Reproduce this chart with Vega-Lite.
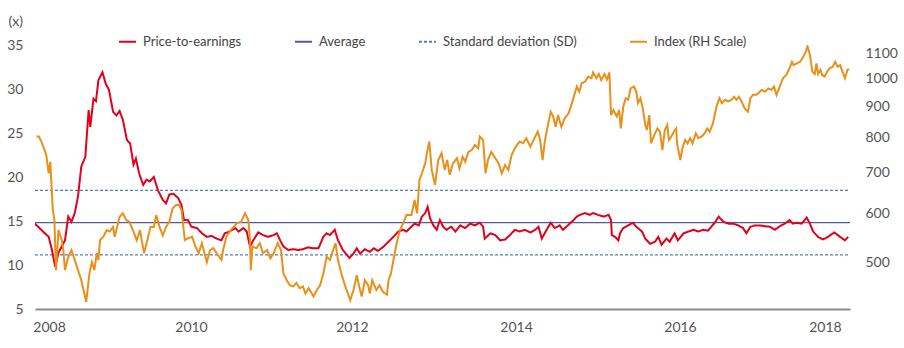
{
  "$schema": "https://vega.github.io/schema/vega-lite/v6.json",
  "width": 815,
  "height": 264,
  "autosize": {"type": "none"},
  "padding": {"left": 35, "top": 45, "right": 54, "bottom": 39},
  "background": "white",
  "config": {
    "view": {"stroke": null},
    "font": "Lato",
    "axis": {"grid": false, "ticks": false, "domain": false, "labelFont": "Lato", "labelFontSize": 14, "labelColor": "#555555", "titleFont": "Lato"},
    "legend": {"labelFont": "Lato", "labelFontSize": 13, "labelColor": "#444444", "symbolType": "stroke", "symbolSize": 289, "symbolStrokeWidth": 2, "columnPadding": 49, "labelOffset": 6, "labelLimit": 300}
  },
  "datasets": {
    "ref": [
      {"s": "Average", "g": "a", "t": 2008.552, "v": 14.82},
      {"s": "Average", "g": "a", "t": 2018.552, "v": 14.82},
      {"s": "Standard deviation (SD)", "g": "u", "t": 2008.552, "v": 18.49},
      {"s": "Standard deviation (SD)", "g": "u", "t": 2018.552, "v": 18.49},
      {"s": "Standard deviation (SD)", "g": "l", "t": 2008.552, "v": 11.15},
      {"s": "Standard deviation (SD)", "g": "l", "t": 2018.552, "v": 11.15}
    ],
    "pe": [
      {"s":"Price-to-earnings","t":2008.55,"v":14.7},{"s":"Price-to-earnings","t":2008.59,"v":14.35},{"s":"Price-to-earnings","t":2008.65,"v":13.8},{"s":"Price-to-earnings","t":2008.72,"v":13.2},{"s":"Price-to-earnings","t":2008.76,"v":11.7},{"s":"Price-to-earnings","t":2008.80,"v":9.8},{"s":"Price-to-earnings","t":2008.84,"v":11.4},{"s":"Price-to-earnings","t":2008.88,"v":12.1},{"s":"Price-to-earnings","t":2008.92,"v":12.8},{"s":"Price-to-earnings","t":2008.96,"v":15.5},
      {"s":"Price-to-earnings","t":2009.00,"v":14.9},{"s":"Price-to-earnings","t":2009.04,"v":15.9},{"s":"Price-to-earnings","t":2009.08,"v":17.8},{"s":"Price-to-earnings","t":2009.12,"v":21.2},{"s":"Price-to-earnings","t":2009.17,"v":22.3},{"s":"Price-to-earnings","t":2009.19,"v":25.0},{"s":"Price-to-earnings","t":2009.21,"v":27.6},{"s":"Price-to-earnings","t":2009.23,"v":25.7},{"s":"Price-to-earnings","t":2009.27,"v":28.9},{"s":"Price-to-earnings","t":2009.30,"v":28.6},
      {"s":"Price-to-earnings","t":2009.33,"v":31.0},{"s":"Price-to-earnings","t":2009.38,"v":31.9},{"s":"Price-to-earnings","t":2009.42,"v":30.6},{"s":"Price-to-earnings","t":2009.46,"v":29.9},{"s":"Price-to-earnings","t":2009.51,"v":27.4},{"s":"Price-to-earnings","t":2009.55,"v":27.0},{"s":"Price-to-earnings","t":2009.59,"v":27.5},{"s":"Price-to-earnings","t":2009.63,"v":26.5},{"s":"Price-to-earnings","t":2009.68,"v":24.2},{"s":"Price-to-earnings","t":2009.72,"v":23.8},
      {"s":"Price-to-earnings","t":2009.76,"v":21.4},{"s":"Price-to-earnings","t":2009.79,"v":22.1},{"s":"Price-to-earnings","t":2009.83,"v":20.4},{"s":"Price-to-earnings","t":2009.88,"v":19.1},{"s":"Price-to-earnings","t":2009.92,"v":19.7},{"s":"Price-to-earnings","t":2009.96,"v":19.5},{"s":"Price-to-earnings","t":2010.01,"v":20.0},{"s":"Price-to-earnings","t":2010.06,"v":18.5},{"s":"Price-to-earnings","t":2010.12,"v":17.4},{"s":"Price-to-earnings","t":2010.16,"v":17.0},
      {"s":"Price-to-earnings","t":2010.20,"v":18.0},{"s":"Price-to-earnings","t":2010.25,"v":18.1},{"s":"Price-to-earnings","t":2010.31,"v":17.6},{"s":"Price-to-earnings","t":2010.35,"v":16.8},{"s":"Price-to-earnings","t":2010.38,"v":15.1},{"s":"Price-to-earnings","t":2010.43,"v":15.1},{"s":"Price-to-earnings","t":2010.47,"v":14.35},{"s":"Price-to-earnings","t":2010.54,"v":14.2},{"s":"Price-to-earnings","t":2010.60,"v":13.6},{"s":"Price-to-earnings","t":2010.66,"v":13.2},
      {"s":"Price-to-earnings","t":2010.72,"v":13.3},{"s":"Price-to-earnings","t":2010.78,"v":13.0},{"s":"Price-to-earnings","t":2010.84,"v":12.8},{"s":"Price-to-earnings","t":2010.88,"v":13.6},{"s":"Price-to-earnings","t":2010.94,"v":13.8},{"s":"Price-to-earnings","t":2011.01,"v":14.2},{"s":"Price-to-earnings","t":2011.05,"v":13.8},{"s":"Price-to-earnings","t":2011.11,"v":14.2},{"s":"Price-to-earnings","t":2011.15,"v":13.8},{"s":"Price-to-earnings","t":2011.19,"v":12.1},
      {"s":"Price-to-earnings","t":2011.23,"v":12.8},{"s":"Price-to-earnings","t":2011.29,"v":13.7},{"s":"Price-to-earnings","t":2011.35,"v":13.4},{"s":"Price-to-earnings","t":2011.41,"v":13.2},{"s":"Price-to-earnings","t":2011.48,"v":13.4},{"s":"Price-to-earnings","t":2011.52,"v":13.6},{"s":"Price-to-earnings","t":2011.56,"v":12.8},{"s":"Price-to-earnings","t":2011.60,"v":12.1},{"s":"Price-to-earnings","t":2011.66,"v":11.7},{"s":"Price-to-earnings","t":2011.72,"v":11.8},
      {"s":"Price-to-earnings","t":2011.78,"v":11.7},{"s":"Price-to-earnings","t":2011.84,"v":11.8},{"s":"Price-to-earnings","t":2011.90,"v":12.0},{"s":"Price-to-earnings","t":2011.97,"v":11.9},{"s":"Price-to-earnings","t":2012.03,"v":11.9},{"s":"Price-to-earnings","t":2012.09,"v":13.2},{"s":"Price-to-earnings","t":2012.13,"v":13.6},{"s":"Price-to-earnings","t":2012.17,"v":13.4},{"s":"Price-to-earnings","t":2012.23,"v":14.0},{"s":"Price-to-earnings","t":2012.27,"v":12.8},
      {"s":"Price-to-earnings","t":2012.33,"v":11.7},{"s":"Price-to-earnings","t":2012.41,"v":10.8},{"s":"Price-to-earnings","t":2012.46,"v":11.3},{"s":"Price-to-earnings","t":2012.50,"v":11.9},{"s":"Price-to-earnings","t":2012.54,"v":11.3},{"s":"Price-to-earnings","t":2012.60,"v":11.8},{"s":"Price-to-earnings","t":2012.66,"v":11.5},{"s":"Price-to-earnings","t":2012.71,"v":11.9},{"s":"Price-to-earnings","t":2012.76,"v":11.6},{"s":"Price-to-earnings","t":2012.83,"v":12.1},
      {"s":"Price-to-earnings","t":2012.89,"v":12.65},{"s":"Price-to-earnings","t":2012.95,"v":13.2},{"s":"Price-to-earnings","t":2013.01,"v":13.8},{"s":"Price-to-earnings","t":2013.07,"v":14.0},{"s":"Price-to-earnings","t":2013.11,"v":13.8},{"s":"Price-to-earnings","t":2013.17,"v":14.35},{"s":"Price-to-earnings","t":2013.21,"v":14.7},{"s":"Price-to-earnings","t":2013.26,"v":14.5},{"s":"Price-to-earnings","t":2013.30,"v":15.5},{"s":"Price-to-earnings","t":2013.34,"v":15.9},
      {"s":"Price-to-earnings","t":2013.37,"v":16.6},{"s":"Price-to-earnings","t":2013.40,"v":15.3},{"s":"Price-to-earnings","t":2013.44,"v":14.5},{"s":"Price-to-earnings","t":2013.48,"v":14.0},{"s":"Price-to-earnings","t":2013.52,"v":15.1},{"s":"Price-to-earnings","t":2013.56,"v":14.35},{"s":"Price-to-earnings","t":2013.60,"v":14.0},{"s":"Price-to-earnings","t":2013.66,"v":14.35},{"s":"Price-to-earnings","t":2013.71,"v":13.8},{"s":"Price-to-earnings","t":2013.77,"v":14.5},
      {"s":"Price-to-earnings","t":2013.83,"v":14.2},{"s":"Price-to-earnings","t":2013.89,"v":14.7},{"s":"Price-to-earnings","t":2013.95,"v":14.5},{"s":"Price-to-earnings","t":2014.01,"v":14.8},{"s":"Price-to-earnings","t":2014.05,"v":14.35},{"s":"Price-to-earnings","t":2014.07,"v":13.0},{"s":"Price-to-earnings","t":2014.14,"v":13.6},{"s":"Price-to-earnings","t":2014.20,"v":13.4},{"s":"Price-to-earnings","t":2014.26,"v":12.8},{"s":"Price-to-earnings","t":2014.32,"v":12.9},
      {"s":"Price-to-earnings","t":2014.38,"v":13.4},{"s":"Price-to-earnings","t":2014.44,"v":14.0},{"s":"Price-to-earnings","t":2014.50,"v":13.8},{"s":"Price-to-earnings","t":2014.56,"v":14.0},{"s":"Price-to-earnings","t":2014.63,"v":13.7},{"s":"Price-to-earnings","t":2014.69,"v":14.0},{"s":"Price-to-earnings","t":2014.73,"v":14.35},{"s":"Price-to-earnings","t":2014.77,"v":13.0},{"s":"Price-to-earnings","t":2014.83,"v":14.0},{"s":"Price-to-earnings","t":2014.88,"v":14.8},
      {"s":"Price-to-earnings","t":2014.93,"v":14.2},{"s":"Price-to-earnings","t":2014.99,"v":14.5},{"s":"Price-to-earnings","t":2015.03,"v":14.0},{"s":"Price-to-earnings","t":2015.09,"v":14.5},{"s":"Price-to-earnings","t":2015.16,"v":15.1},{"s":"Price-to-earnings","t":2015.20,"v":15.5},{"s":"Price-to-earnings","t":2015.24,"v":15.7},{"s":"Price-to-earnings","t":2015.30,"v":15.9},{"s":"Price-to-earnings","t":2015.36,"v":15.7},{"s":"Price-to-earnings","t":2015.40,"v":15.9},
      {"s":"Price-to-earnings","t":2015.46,"v":15.7},{"s":"Price-to-earnings","t":2015.53,"v":15.5},{"s":"Price-to-earnings","t":2015.59,"v":15.7},{"s":"Price-to-earnings","t":2015.62,"v":15.1},{"s":"Price-to-earnings","t":2015.63,"v":13.4},{"s":"Price-to-earnings","t":2015.67,"v":13.2},{"s":"Price-to-earnings","t":2015.71,"v":12.8},{"s":"Price-to-earnings","t":2015.73,"v":13.6},{"s":"Price-to-earnings","t":2015.77,"v":14.2},{"s":"Price-to-earnings","t":2015.83,"v":14.5},
      {"s":"Price-to-earnings","t":2015.89,"v":14.8},{"s":"Price-to-earnings","t":2015.93,"v":14.35},{"s":"Price-to-earnings","t":2016.00,"v":13.8},{"s":"Price-to-earnings","t":2016.04,"v":13.0},{"s":"Price-to-earnings","t":2016.10,"v":12.4},{"s":"Price-to-earnings","t":2016.16,"v":12.65},{"s":"Price-to-earnings","t":2016.20,"v":13.2},{"s":"Price-to-earnings","t":2016.24,"v":12.3},{"s":"Price-to-earnings","t":2016.30,"v":13.0},{"s":"Price-to-earnings","t":2016.34,"v":12.65},
      {"s":"Price-to-earnings","t":2016.40,"v":13.6},{"s":"Price-to-earnings","t":2016.44,"v":12.8},{"s":"Price-to-earnings","t":2016.51,"v":13.6},{"s":"Price-to-earnings","t":2016.57,"v":13.8},{"s":"Price-to-earnings","t":2016.63,"v":14.0},{"s":"Price-to-earnings","t":2016.69,"v":13.8},{"s":"Price-to-earnings","t":2016.75,"v":14.0},{"s":"Price-to-earnings","t":2016.81,"v":13.9},{"s":"Price-to-earnings","t":2016.85,"v":14.35},{"s":"Price-to-earnings","t":2016.90,"v":14.9},
      {"s":"Price-to-earnings","t":2016.94,"v":15.5},{"s":"Price-to-earnings","t":2017.00,"v":14.9},{"s":"Price-to-earnings","t":2017.06,"v":14.7},{"s":"Price-to-earnings","t":2017.12,"v":14.7},{"s":"Price-to-earnings","t":2017.18,"v":14.5},{"s":"Price-to-earnings","t":2017.24,"v":14.2},{"s":"Price-to-earnings","t":2017.28,"v":13.6},{"s":"Price-to-earnings","t":2017.33,"v":14.35},{"s":"Price-to-earnings","t":2017.39,"v":14.5},{"s":"Price-to-earnings","t":2017.45,"v":14.5},
      {"s":"Price-to-earnings","t":2017.51,"v":14.4},{"s":"Price-to-earnings","t":2017.57,"v":14.35},{"s":"Price-to-earnings","t":2017.63,"v":14.0},{"s":"Price-to-earnings","t":2017.69,"v":14.4},{"s":"Price-to-earnings","t":2017.75,"v":14.7},{"s":"Price-to-earnings","t":2017.81,"v":15.1},{"s":"Price-to-earnings","t":2017.85,"v":14.7},{"s":"Price-to-earnings","t":2017.90,"v":14.8},{"s":"Price-to-earnings","t":2017.96,"v":14.7},{"s":"Price-to-earnings","t":2018.02,"v":15.4},
      {"s":"Price-to-earnings","t":2018.06,"v":14.7},{"s":"Price-to-earnings","t":2018.10,"v":13.8},{"s":"Price-to-earnings","t":2018.16,"v":13.2},{"s":"Price-to-earnings","t":2018.22,"v":12.9},{"s":"Price-to-earnings","t":2018.28,"v":13.2},{"s":"Price-to-earnings","t":2018.36,"v":13.7},{"s":"Price-to-earnings","t":2018.43,"v":13.2},{"s":"Price-to-earnings","t":2018.49,"v":12.8},{"s":"Price-to-earnings","t":2018.53,"v":13.2}
    ],
    "idx": [
      {"s":"Index (RH Scale)","t":2008.57,"v":803},{"s":"Index (RH Scale)","t":2008.60,"v":803},{"s":"Index (RH Scale)","t":2008.63,"v":788},{"s":"Index (RH Scale)","t":2008.67,"v":763},{"s":"Index (RH Scale)","t":2008.69,"v":749},{"s":"Index (RH Scale)","t":2008.72,"v":699},{"s":"Index (RH Scale)","t":2008.74,"v":730},{"s":"Index (RH Scale)","t":2008.77,"v":609},{"s":"Index (RH Scale)","t":2008.79,"v":586},{"s":"Index (RH Scale)","t":2008.81,"v":485},
      {"s":"Index (RH Scale)","t":2008.84,"v":564},{"s":"Index (RH Scale)","t":2008.88,"v":543},{"s":"Index (RH Scale)","t":2008.90,"v":523},{"s":"Index (RH Scale)","t":2008.92,"v":485},{"s":"Index (RH Scale)","t":2008.96,"v":510},{"s":"Index (RH Scale)","t":2009.00,"v":523},{"s":"Index (RH Scale)","t":2009.04,"v":504},{"s":"Index (RH Scale)","t":2009.08,"v":485},{"s":"Index (RH Scale)","t":2009.12,"v":467},{"s":"Index (RH Scale)","t":2009.18,"v":430},
      {"s":"Index (RH Scale)","t":2009.22,"v":479},{"s":"Index (RH Scale)","t":2009.25,"v":500},{"s":"Index (RH Scale)","t":2009.28,"v":485},{"s":"Index (RH Scale)","t":2009.31,"v":517},{"s":"Index (RH Scale)","t":2009.33,"v":504},{"s":"Index (RH Scale)","t":2009.35,"v":543},{"s":"Index (RH Scale)","t":2009.39,"v":550},{"s":"Index (RH Scale)","t":2009.43,"v":564},{"s":"Index (RH Scale)","t":2009.47,"v":561},{"s":"Index (RH Scale)","t":2009.51,"v":571},
      {"s":"Index (RH Scale)","t":2009.53,"v":550},{"s":"Index (RH Scale)","t":2009.59,"v":593},{"s":"Index (RH Scale)","t":2009.63,"v":601},{"s":"Index (RH Scale)","t":2009.67,"v":586},{"s":"Index (RH Scale)","t":2009.71,"v":582},{"s":"Index (RH Scale)","t":2009.76,"v":561},{"s":"Index (RH Scale)","t":2009.80,"v":543},{"s":"Index (RH Scale)","t":2009.84,"v":564},{"s":"Index (RH Scale)","t":2009.89,"v":517},{"s":"Index (RH Scale)","t":2009.93,"v":543},
      {"s":"Index (RH Scale)","t":2009.97,"v":571},{"s":"Index (RH Scale)","t":2010.01,"v":571},{"s":"Index (RH Scale)","t":2010.04,"v":597},{"s":"Index (RH Scale)","t":2010.08,"v":571},{"s":"Index (RH Scale)","t":2010.12,"v":553},{"s":"Index (RH Scale)","t":2010.16,"v":571},{"s":"Index (RH Scale)","t":2010.20,"v":582},{"s":"Index (RH Scale)","t":2010.24,"v":612},{"s":"Index (RH Scale)","t":2010.28,"v":620},{"s":"Index (RH Scale)","t":2010.32,"v":620},
      {"s":"Index (RH Scale)","t":2010.35,"v":609},{"s":"Index (RH Scale)","t":2010.39,"v":543},{"s":"Index (RH Scale)","t":2010.43,"v":547},{"s":"Index (RH Scale)","t":2010.48,"v":550},{"s":"Index (RH Scale)","t":2010.52,"v":530},{"s":"Index (RH Scale)","t":2010.56,"v":517},{"s":"Index (RH Scale)","t":2010.60,"v":537},{"s":"Index (RH Scale)","t":2010.66,"v":500},{"s":"Index (RH Scale)","t":2010.70,"v":523},{"s":"Index (RH Scale)","t":2010.74,"v":527},
      {"s":"Index (RH Scale)","t":2010.78,"v":517},{"s":"Index (RH Scale)","t":2010.84,"v":504},{"s":"Index (RH Scale)","t":2010.86,"v":523},{"s":"Index (RH Scale)","t":2010.90,"v":550},{"s":"Index (RH Scale)","t":2010.94,"v":561},{"s":"Index (RH Scale)","t":2010.99,"v":571},{"s":"Index (RH Scale)","t":2011.03,"v":579},{"s":"Index (RH Scale)","t":2011.08,"v":582},{"s":"Index (RH Scale)","t":2011.13,"v":601},{"s":"Index (RH Scale)","t":2011.17,"v":586},
      {"s":"Index (RH Scale)","t":2011.19,"v":543},{"s":"Index (RH Scale)","t":2011.20,"v":485},{"s":"Index (RH Scale)","t":2011.22,"v":530},{"s":"Index (RH Scale)","t":2011.27,"v":527},{"s":"Index (RH Scale)","t":2011.31,"v":537},{"s":"Index (RH Scale)","t":2011.35,"v":517},{"s":"Index (RH Scale)","t":2011.40,"v":523},{"s":"Index (RH Scale)","t":2011.44,"v":507},{"s":"Index (RH Scale)","t":2011.48,"v":517},{"s":"Index (RH Scale)","t":2011.53,"v":537},
      {"s":"Index (RH Scale)","t":2011.57,"v":523},{"s":"Index (RH Scale)","t":2011.60,"v":479},{"s":"Index (RH Scale)","t":2011.64,"v":467},{"s":"Index (RH Scale)","t":2011.68,"v":458},{"s":"Index (RH Scale)","t":2011.72,"v":456},{"s":"Index (RH Scale)","t":2011.76,"v":462},{"s":"Index (RH Scale)","t":2011.80,"v":453},{"s":"Index (RH Scale)","t":2011.84,"v":456},{"s":"Index (RH Scale)","t":2011.87,"v":444},{"s":"Index (RH Scale)","t":2011.91,"v":453},
      {"s":"Index (RH Scale)","t":2011.97,"v":439},{"s":"Index (RH Scale)","t":2012.01,"v":450},{"s":"Index (RH Scale)","t":2012.05,"v":458},{"s":"Index (RH Scale)","t":2012.09,"v":479},{"s":"Index (RH Scale)","t":2012.13,"v":510},{"s":"Index (RH Scale)","t":2012.17,"v":504},{"s":"Index (RH Scale)","t":2012.21,"v":523},{"s":"Index (RH Scale)","t":2012.24,"v":537},{"s":"Index (RH Scale)","t":2012.27,"v":504},{"s":"Index (RH Scale)","t":2012.31,"v":479},
      {"s":"Index (RH Scale)","t":2012.36,"v":456},{"s":"Index (RH Scale)","t":2012.42,"v":433},{"s":"Index (RH Scale)","t":2012.46,"v":450},{"s":"Index (RH Scale)","t":2012.50,"v":476},{"s":"Index (RH Scale)","t":2012.53,"v":456},{"s":"Index (RH Scale)","t":2012.56,"v":439},{"s":"Index (RH Scale)","t":2012.60,"v":467},{"s":"Index (RH Scale)","t":2012.64,"v":458},{"s":"Index (RH Scale)","t":2012.66,"v":444},{"s":"Index (RH Scale)","t":2012.69,"v":467},
      {"s":"Index (RH Scale)","t":2012.74,"v":450},{"s":"Index (RH Scale)","t":2012.78,"v":458},{"s":"Index (RH Scale)","t":2012.82,"v":447},{"s":"Index (RH Scale)","t":2012.87,"v":442},{"s":"Index (RH Scale)","t":2012.89,"v":467},{"s":"Index (RH Scale)","t":2012.92,"v":479},{"s":"Index (RH Scale)","t":2012.95,"v":504},{"s":"Index (RH Scale)","t":2012.99,"v":537},{"s":"Index (RH Scale)","t":2013.03,"v":564},{"s":"Index (RH Scale)","t":2013.07,"v":579},
      {"s":"Index (RH Scale)","t":2013.11,"v":597},{"s":"Index (RH Scale)","t":2013.17,"v":597},{"s":"Index (RH Scale)","t":2013.21,"v":632},{"s":"Index (RH Scale)","t":2013.24,"v":601},{"s":"Index (RH Scale)","t":2013.27,"v":682},{"s":"Index (RH Scale)","t":2013.30,"v":699},{"s":"Index (RH Scale)","t":2013.34,"v":726},{"s":"Index (RH Scale)","t":2013.36,"v":754},{"s":"Index (RH Scale)","t":2013.39,"v":788},{"s":"Index (RH Scale)","t":2013.42,"v":708},
      {"s":"Index (RH Scale)","t":2013.46,"v":669},{"s":"Index (RH Scale)","t":2013.50,"v":735},{"s":"Index (RH Scale)","t":2013.54,"v":754},{"s":"Index (RH Scale)","t":2013.58,"v":708},{"s":"Index (RH Scale)","t":2013.61,"v":735},{"s":"Index (RH Scale)","t":2013.64,"v":695},{"s":"Index (RH Scale)","t":2013.68,"v":726},{"s":"Index (RH Scale)","t":2013.73,"v":740},{"s":"Index (RH Scale)","t":2013.76,"v":712},{"s":"Index (RH Scale)","t":2013.80,"v":744},
      {"s":"Index (RH Scale)","t":2013.83,"v":730},{"s":"Index (RH Scale)","t":2013.87,"v":758},{"s":"Index (RH Scale)","t":2013.91,"v":763},{"s":"Index (RH Scale)","t":2013.95,"v":778},{"s":"Index (RH Scale)","t":2013.99,"v":768},{"s":"Index (RH Scale)","t":2014.01,"v":803},{"s":"Index (RH Scale)","t":2014.05,"v":793},{"s":"Index (RH Scale)","t":2014.08,"v":699},{"s":"Index (RH Scale)","t":2014.11,"v":735},{"s":"Index (RH Scale)","t":2014.15,"v":758},
      {"s":"Index (RH Scale)","t":2014.20,"v":740},{"s":"Index (RH Scale)","t":2014.24,"v":726},{"s":"Index (RH Scale)","t":2014.28,"v":699},{"s":"Index (RH Scale)","t":2014.32,"v":721},{"s":"Index (RH Scale)","t":2014.36,"v":708},{"s":"Index (RH Scale)","t":2014.40,"v":749},{"s":"Index (RH Scale)","t":2014.45,"v":773},{"s":"Index (RH Scale)","t":2014.50,"v":788},{"s":"Index (RH Scale)","t":2014.54,"v":783},{"s":"Index (RH Scale)","t":2014.58,"v":798},
      {"s":"Index (RH Scale)","t":2014.63,"v":773},{"s":"Index (RH Scale)","t":2014.67,"v":793},{"s":"Index (RH Scale)","t":2014.72,"v":818},{"s":"Index (RH Scale)","t":2014.75,"v":793},{"s":"Index (RH Scale)","t":2014.78,"v":735},{"s":"Index (RH Scale)","t":2014.81,"v":793},{"s":"Index (RH Scale)","t":2014.85,"v":844},{"s":"Index (RH Scale)","t":2014.88,"v":882},{"s":"Index (RH Scale)","t":2014.91,"v":866},{"s":"Index (RH Scale)","t":2014.94,"v":833},
      {"s":"Index (RH Scale)","t":2014.97,"v":871},{"s":"Index (RH Scale)","t":2015.01,"v":833},{"s":"Index (RH Scale)","t":2015.05,"v":860},{"s":"Index (RH Scale)","t":2015.10,"v":877},{"s":"Index (RH Scale)","t":2015.14,"v":911},{"s":"Index (RH Scale)","t":2015.20,"v":970},{"s":"Index (RH Scale)","t":2015.23,"v":951},{"s":"Index (RH Scale)","t":2015.26,"v":982},{"s":"Index (RH Scale)","t":2015.30,"v":988},{"s":"Index (RH Scale)","t":2015.34,"v":1007},
      {"s":"Index (RH Scale)","t":2015.38,"v":1001},{"s":"Index (RH Scale)","t":2015.40,"v":1023},{"s":"Index (RH Scale)","t":2015.44,"v":1001},{"s":"Index (RH Scale)","t":2015.47,"v":1017},{"s":"Index (RH Scale)","t":2015.50,"v":994},{"s":"Index (RH Scale)","t":2015.54,"v":1017},{"s":"Index (RH Scale)","t":2015.57,"v":996},{"s":"Index (RH Scale)","t":2015.60,"v":1023},{"s":"Index (RH Scale)","t":2015.62,"v":871},{"s":"Index (RH Scale)","t":2015.65,"v":888},
      {"s":"Index (RH Scale)","t":2015.69,"v":866},{"s":"Index (RH Scale)","t":2015.72,"v":888},{"s":"Index (RH Scale)","t":2015.74,"v":828},{"s":"Index (RH Scale)","t":2015.77,"v":899},{"s":"Index (RH Scale)","t":2015.80,"v":928},{"s":"Index (RH Scale)","t":2015.83,"v":923},{"s":"Index (RH Scale)","t":2015.86,"v":963},{"s":"Index (RH Scale)","t":2015.90,"v":970},{"s":"Index (RH Scale)","t":2015.93,"v":951},{"s":"Index (RH Scale)","t":2015.95,"v":911},
      {"s":"Index (RH Scale)","t":2015.98,"v":928},{"s":"Index (RH Scale)","t":2016.01,"v":893},{"s":"Index (RH Scale)","t":2016.04,"v":839},{"s":"Index (RH Scale)","t":2016.06,"v":823},{"s":"Index (RH Scale)","t":2016.09,"v":871},{"s":"Index (RH Scale)","t":2016.11,"v":783},{"s":"Index (RH Scale)","t":2016.16,"v":813},{"s":"Index (RH Scale)","t":2016.19,"v":828},{"s":"Index (RH Scale)","t":2016.22,"v":818},{"s":"Index (RH Scale)","t":2016.25,"v":763},
      {"s":"Index (RH Scale)","t":2016.28,"v":823},{"s":"Index (RH Scale)","t":2016.31,"v":839},{"s":"Index (RH Scale)","t":2016.33,"v":793},{"s":"Index (RH Scale)","t":2016.36,"v":803},{"s":"Index (RH Scale)","t":2016.39,"v":818},{"s":"Index (RH Scale)","t":2016.42,"v":828},{"s":"Index (RH Scale)","t":2016.43,"v":783},{"s":"Index (RH Scale)","t":2016.47,"v":735},{"s":"Index (RH Scale)","t":2016.50,"v":773},{"s":"Index (RH Scale)","t":2016.53,"v":793},
      {"s":"Index (RH Scale)","t":2016.56,"v":783},{"s":"Index (RH Scale)","t":2016.59,"v":798},{"s":"Index (RH Scale)","t":2016.62,"v":783},{"s":"Index (RH Scale)","t":2016.66,"v":813},{"s":"Index (RH Scale)","t":2016.69,"v":798},{"s":"Index (RH Scale)","t":2016.73,"v":803},{"s":"Index (RH Scale)","t":2016.77,"v":813},{"s":"Index (RH Scale)","t":2016.80,"v":828},{"s":"Index (RH Scale)","t":2016.83,"v":818},{"s":"Index (RH Scale)","t":2016.87,"v":844},
      {"s":"Index (RH Scale)","t":2016.90,"v":882},{"s":"Index (RH Scale)","t":2016.92,"v":905},{"s":"Index (RH Scale)","t":2016.95,"v":928},{"s":"Index (RH Scale)","t":2016.98,"v":911},{"s":"Index (RH Scale)","t":2017.02,"v":923},{"s":"Index (RH Scale)","t":2017.06,"v":917},{"s":"Index (RH Scale)","t":2017.10,"v":923},{"s":"Index (RH Scale)","t":2017.13,"v":933},{"s":"Index (RH Scale)","t":2017.16,"v":923},{"s":"Index (RH Scale)","t":2017.19,"v":933},
      {"s":"Index (RH Scale)","t":2017.22,"v":917},{"s":"Index (RH Scale)","t":2017.26,"v":893},{"s":"Index (RH Scale)","t":2017.30,"v":882},{"s":"Index (RH Scale)","t":2017.33,"v":928},{"s":"Index (RH Scale)","t":2017.36,"v":940},{"s":"Index (RH Scale)","t":2017.40,"v":940},{"s":"Index (RH Scale)","t":2017.43,"v":947},{"s":"Index (RH Scale)","t":2017.47,"v":958},{"s":"Index (RH Scale)","t":2017.51,"v":951},{"s":"Index (RH Scale)","t":2017.55,"v":963},
      {"s":"Index (RH Scale)","t":2017.59,"v":958},{"s":"Index (RH Scale)","t":2017.62,"v":970},{"s":"Index (RH Scale)","t":2017.65,"v":940},{"s":"Index (RH Scale)","t":2017.69,"v":970},{"s":"Index (RH Scale)","t":2017.73,"v":1001},{"s":"Index (RH Scale)","t":2017.77,"v":1013},{"s":"Index (RH Scale)","t":2017.81,"v":1039},{"s":"Index (RH Scale)","t":2017.84,"v":1065},{"s":"Index (RH Scale)","t":2017.86,"v":1052},{"s":"Index (RH Scale)","t":2017.90,"v":1059},
      {"s":"Index (RH Scale)","t":2017.94,"v":1065},{"s":"Index (RH Scale)","t":2017.98,"v":1086},{"s":"Index (RH Scale)","t":2018.01,"v":1106},{"s":"Index (RH Scale)","t":2018.03,"v":1130},{"s":"Index (RH Scale)","t":2018.06,"v":1093},{"s":"Index (RH Scale)","t":2018.09,"v":1026},{"s":"Index (RH Scale)","t":2018.12,"v":1017},{"s":"Index (RH Scale)","t":2018.14,"v":1059},{"s":"Index (RH Scale)","t":2018.16,"v":1017},{"s":"Index (RH Scale)","t":2018.19,"v":1033},
      {"s":"Index (RH Scale)","t":2018.21,"v":1013},{"s":"Index (RH Scale)","t":2018.24,"v":1007},{"s":"Index (RH Scale)","t":2018.27,"v":1026},{"s":"Index (RH Scale)","t":2018.30,"v":1039},{"s":"Index (RH Scale)","t":2018.34,"v":1045},{"s":"Index (RH Scale)","t":2018.37,"v":1065},{"s":"Index (RH Scale)","t":2018.40,"v":1045},{"s":"Index (RH Scale)","t":2018.43,"v":1052},{"s":"Index (RH Scale)","t":2018.46,"v":1026},{"s":"Index (RH Scale)","t":2018.49,"v":1001},
      {"s":"Index (RH Scale)","t":2018.52,"v":1033},{"s":"Index (RH Scale)","t":2018.54,"v":1036}
    ]
  },
  "layer": [
    {
      "layer": [
        {
          "data": {"name": "ref"},
          "mark": {"type": "line", "clip": true},
          "encoding": {
            "x": {"field": "t", "type": "quantitative", "scale": {"domain": [2008.552, 2018.552], "nice": false, "zero": false},
              "axis": {"title": null, "domain": true, "domainColor": "#8c8c8c", "domainWidth": 2, "labelPadding": 11, "labelFlush": false,
                "values": [2008.724, 2010.466, 2012.441, 2014.454, 2016.466, 2018.245], "labelExpr": "floor(datum.value)"}},
            "y": {"field": "v", "type": "quantitative", "scale": {"domain": [5, 35], "nice": false, "zero": false},
              "axis": {"orient": "left", "values": [5, 10, 15, 20, 25, 30, 35], "labelPadding": 12, "title": "(x)", "titleAngle": 0, "titleAlign": "left", "titleBaseline": "middle", "titleX": -27, "titleY": -24, "titleFontWeight": "normal", "titleFontSize": 14, "titleColor": "#555555"}},
            "detail": {"field": "g"},
            "color": {"field": "s", "type": "nominal",
              "scale": {"domain": ["Price-to-earnings", "Average", "Standard deviation (SD)", "Index (RH Scale)"], "range": ["#e2001a", "#56589f", "#4f83b5", "#e8901a"]},
              "legend": {"orient": "none", "legendX": 83, "legendY": -13, "direction": "horizontal", "title": null}},
            "strokeDash": {"field": "s", "type": "nominal",
              "scale": {"domain": ["Price-to-earnings", "Average", "Standard deviation (SD)", "Index (RH Scale)"], "range": [[1, 0], [1, 0], [3, 2], [1, 0]]},
              "legend": {"orient": "none", "legendX": 83, "legendY": -13, "direction": "horizontal", "title": null}},
            "strokeWidth": {"value": 1.3}
          }
        },
        {
          "data": {"name": "pe"},
          "mark": {"type": "line", "strokeWidth": 2, "clip": true},
          "encoding": {
            "x": {"field": "t", "type": "quantitative"},
            "y": {"field": "v", "type": "quantitative"},
            "color": {"field": "s", "type": "nominal"},
            "strokeDash": {"field": "s", "type": "nominal"}
          }
        }
      ]
    },
    {
      "data": {"name": "idx"},
      "mark": {"type": "line", "strokeWidth": 2, "clip": true},
      "encoding": {
        "x": {"field": "t", "type": "quantitative"},
        "y": {"field": "v", "type": "quantitative", "scale": {"type": "log", "domain": [418.8, 1134.7], "nice": false, "zero": false},
          "axis": {"orient": "right", "values": [500, 600, 700, 800, 900, 1000, 1100], "format": "d", "labelPadding": 15, "title": null}},
        "color": {"field": "s", "type": "nominal"},
        "strokeDash": {"field": "s", "type": "nominal"}
      }
    }
  ],
  "resolve": {"scale": {"y": "independent"}, "axis": {"y": "independent"}}
}
